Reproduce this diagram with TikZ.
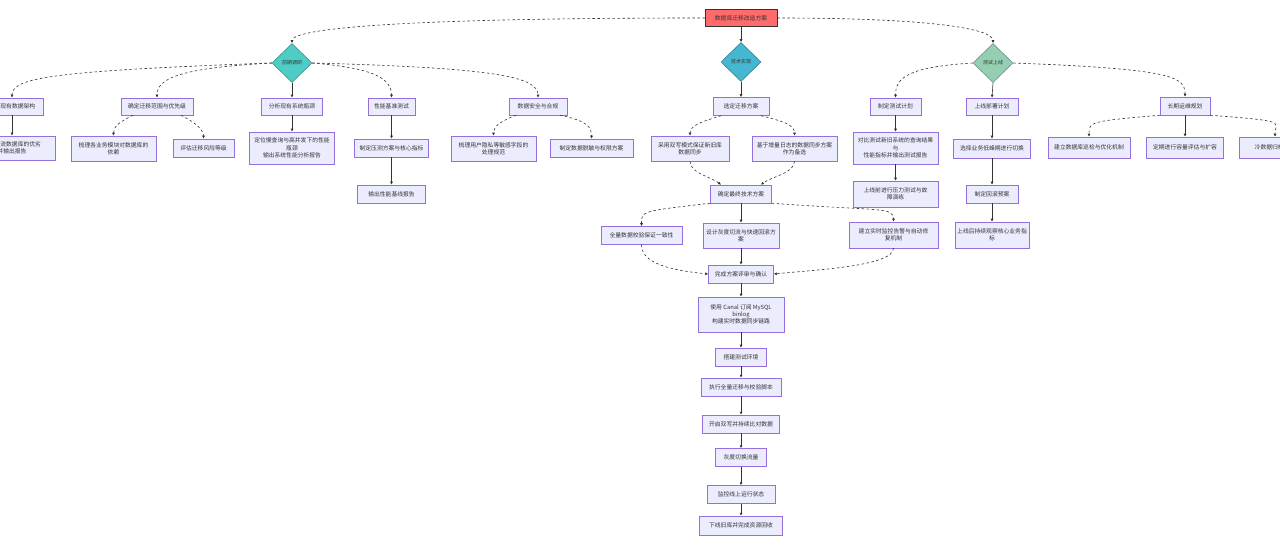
\documentclass[tikz,border=0pt]{standalone}
\usepackage{fontspec}
\newfontfamily\cjk{Noto Sans CJK SC}
\usetikzlibrary{shapes.geometric,arrows.meta}
\definecolor{boxfill}{HTML}{ECECFF}
\definecolor{boxdraw}{HTML}{9370DB}
\definecolor{rootfill}{HTML}{FF6B6B}
\definecolor{lfill}{HTML}{4ECDC4}
\definecolor{mfill}{HTML}{45B7D1}
\definecolor{rfill}{HTML}{96CEB4}
\definecolor{edgec}{HTML}{333333}
\newcommand\mybox[6]{\node[box,minimum width=#4pt,minimum height=#5pt] (#1) at (#2,#3) {#6};}
\begin{document}
\begin{tikzpicture}[x=1pt,y=-1pt,
  box/.style={draw=boxdraw, fill=boxfill, line width=0.5pt, inner sep=1pt, align=center,
    font=\cjk\fontsize{5.8}{7.2}\selectfont, text=black!80},
  rootbox/.style={box, fill=rootfill, draw=edgec},
  dia/.style={diamond, draw=#1!65!black, fill=#1, line width=0.5pt, inner sep=0pt,
    minimum width=40pt, minimum height=39pt, font=\cjk\fontsize{5}{6}\selectfont, text=black!80},
  sedge/.style={draw=edgec, line width=0.6pt, -{Latex[length=3pt,width=3pt]}},
  dedge/.style={sedge, dash pattern=on 2.5pt off 2.5pt}]
\fill[white] (0,0) rectangle (1280,545);
\useasboundingbox (0,0) rectangle (1280,545);

% root and diamonds
\node[rootbox,minimum width=72pt,minimum height=17pt] (R) at (741,18) {数据库迁移改造方案};
\node[dia=lfill] (L) at (292,63) {前期调研};
\node[dia=mfill] (M) at (741,62) {技术实现};
\node[dia=rfill] (Q) at (993,63) {测试上线};

% left branch
\mybox{A1}{12}{106.5}{62}{17}{评估现有数据架构}
\mybox{A2}{157}{106.5}{72}{17}{确定迁移范围与优先级}
\mybox{A3}{292}{106.5}{61}{17}{分析现有系统瓶颈}
\mybox{A4}{391.5}{106.5}{47}{17}{性能基准测试}
\mybox{A5}{538}{106.5}{58}{17}{数据安全与合规}
\mybox{A1c}{12}{148}{86}{24}{调研主流数据库的优劣\\并输出报告}
\mybox{A2c1}{113.5}{148.5}{85}{25}{梳理各业务模块对数据库的\\依赖}
\mybox{A2c2}{203.5}{148}{61}{18}{评估迁移风险等级}
\mybox{A3c}{292}{148}{85}{32}{定位慢查询与高并发下的性能\\瓶颈\\输出系统性能分析报告}
\mybox{A4c}{391.5}{148}{74}{18}{制定压测方案与核心指标}
\mybox{A4cc}{391.5}{194}{68}{18}{输出性能基线报告}
\mybox{A5c1}{493.5}{148.5}{85}{25}{梳理用户隐私等敏感字段的\\处理规范}
\mybox{A5c2}{591.5}{148}{83}{18}{制定数据脱敏与权限方案}

% middle branch
\mybox{B1}{741}{106.5}{56}{18}{选定迁移方案}
\mybox{B2}{690}{148.5}{78}{25}{采用双写模式保证新旧库\\数据同步}
\mybox{B3}{794.5}{148.5}{85}{25}{基于增量日志的数据同步方案\\作为备选}
\mybox{B4}{741}{194}{61}{18}{确定最终技术方案}
\mybox{B5}{641.5}{235.5}{81}{18}{全量数据校验保证一致性}
\mybox{B6}{741}{235.5}{76}{25}{设计灰度切流与快速回滚方\\案}
\mybox{B7}{893.5}{235}{89}{26}{建立实时监控告警与自动修\\复机制}
\mybox{B8}{741}{274}{65}{18}{完成方案评审与确认}
\mybox{B9}{741}{314.5}{86}{35}{使用 Canal 订阅 MySQL\\binlog\\构建实时数据同步链路}
\mybox{B10}{741}{357}{51}{18}{搭建测试环境}
\mybox{B11}{741}{387}{80}{18}{执行全量迁移与校验脚本}
\mybox{B12}{741}{424}{77}{18}{开启双写并持续比对数据}
\mybox{B13}{741}{457.5}{51}{18}{灰度切换流量}
\mybox{B14}{741}{494.5}{68}{18}{监控线上运行状态}
\mybox{B15}{741}{525.5}{83}{19}{下线旧库并完成资源回收}

% right branch
\mybox{C1}{895.5}{106.5}{51}{17}{制定测试计划}
\mybox{C2}{895.5}{148}{85}{32}{对比测试新旧系统的查询结果\\与\\性能指标并输出测试报告}
\mybox{C3}{895.5}{194}{85}{26}{上线前进行压力测试与故\\障演练}
\mybox{D1}{992}{106.5}{52}{17}{上线部署计划}
\mybox{D2}{992}{148.5}{77}{19}{选择业务低峰期进行切换}
\mybox{D3}{992}{194}{52}{18}{制定回滚预案}
\mybox{D4}{992}{235}{74}{26}{上线后持续观察核心业务指\\标}
\mybox{E1}{1185}{106}{50}{18}{长期运维规划}
\mybox{E2}{1089}{147.5}{82}{21}{建立数据库巡检与优化机制}
\mybox{E3}{1185}{147.5}{77}{21}{定期进行容量评估与扩容}
\mybox{E4}{1275}{147.5}{72}{21}{冷数据归档策略}

% root edges
\draw[dedge] (R.west) .. controls +(-300,0) and +(0,-15) .. (L.north);
\draw[sedge] (R.south) -- (M.north);
\draw[dedge] (R.east) .. controls +(150,0) and +(0,-15) .. (Q.north);

% left edges
\draw[dedge] (L.west) .. controls +(-220,8) and +(0,-20) .. (A1.north);
\draw[dedge] (L.west) .. controls +(-90,5) and +(0,-20) .. (A2.north);
\draw[sedge] (L.south) -- (A3.north);
\draw[dedge] (L.east) .. controls +(60,5) and +(0,-20) .. (A4.north);
\draw[dedge] (L.east) .. controls +(190,5) and +(0,-20) .. (A5.north);
\draw[sedge] (A1.south) -- (A1c.north);
\draw[dedge] ([xshift=-24pt]A2.south) .. controls +(-12,6) and +(0,-10) .. (A2c1.north);
\draw[dedge] ([xshift=24pt]A2.south) .. controls +(12,6) and +(0,-10) .. (A2c2.north);
\draw[sedge] (A3.south) -- (A3c.north);
\draw[sedge] (A4.south) -- (A4c.north);
\draw[sedge] (A4c.south) -- (A4cc.north);
\draw[dedge] ([xshift=-22pt]A5.south) .. controls +(-15,6) and +(0,-10) .. (A5c1.north);
\draw[dedge] ([xshift=22pt]A5.south) .. controls +(30,6) and +(0,-10) .. (A5c2.north);

% middle edges
\draw[sedge] (M.south) -- (B1.north);
\draw[dedge] ([xshift=-20pt]B1.south) .. controls +(-20,6) and +(0,-10) .. (B2.north);
\draw[dedge] ([xshift=20pt]B1.south) .. controls +(25,6) and +(0,-10) .. (B3.north);
\draw[dedge] (B2.south) .. controls +(0,12) and +(-10,-8) .. ([xshift=-20pt]B4.north);
\draw[dedge] (B3.south) .. controls +(0,12) and +(10,-8) .. ([xshift=20pt]B4.north);
\draw[dedge] (B4.south west) .. controls +(-70,8) and +(0,-15) .. (B5.north);
\draw[sedge] (B4.south) -- (B6.north);
\draw[dedge] (B4.south east) .. controls +(110,8) and +(0,-15) .. (B7.north);
\draw[dedge] (B5.south) .. controls +(0,18) and +(-40,-4) .. (B8.west);
\draw[sedge] (B6.south) -- (B8.north);
\draw[dedge] (B7.south) .. controls +(0,18) and +(40,-4) .. (B8.east);
\draw[sedge] (B8.south) -- (B9.north);
\draw[sedge] (B9.south) -- (B10.north);
\draw[sedge] (B10.south) -- (B11.north);
\draw[sedge] (B11.south) -- (B12.north);
\draw[sedge] (B12.south) -- (B13.north);
\draw[sedge] (B13.south) -- (B14.north);
\draw[sedge] (B14.south) -- (B15.north);

% right edges
\draw[dedge] (Q.west) .. controls +(-65,4) and +(0,-20) .. (C1.north);
\draw[sedge] (Q.south) -- (D1.north);
\draw[dedge] (Q.east) .. controls +(160,6) and +(0,-20) .. (E1.north);
\draw[sedge] (C1.south) -- (C2.north);
\draw[sedge] (C2.south) -- (C3.north);
\draw[sedge] (D1.south) -- (D2.north);
\draw[sedge] (D2.south) -- (D3.north);
\draw[sedge] (D3.south) -- (D4.north);
\draw[dedge] (E1.south west) .. controls +(-70,6) and +(0,-15) .. (E2.north);
\draw[sedge] (E1.south) -- (E3.north);
\draw[dedge] (E1.south east) .. controls +(80,6) and +(0,-15) .. (E4.north);
\end{tikzpicture}
\end{document}
